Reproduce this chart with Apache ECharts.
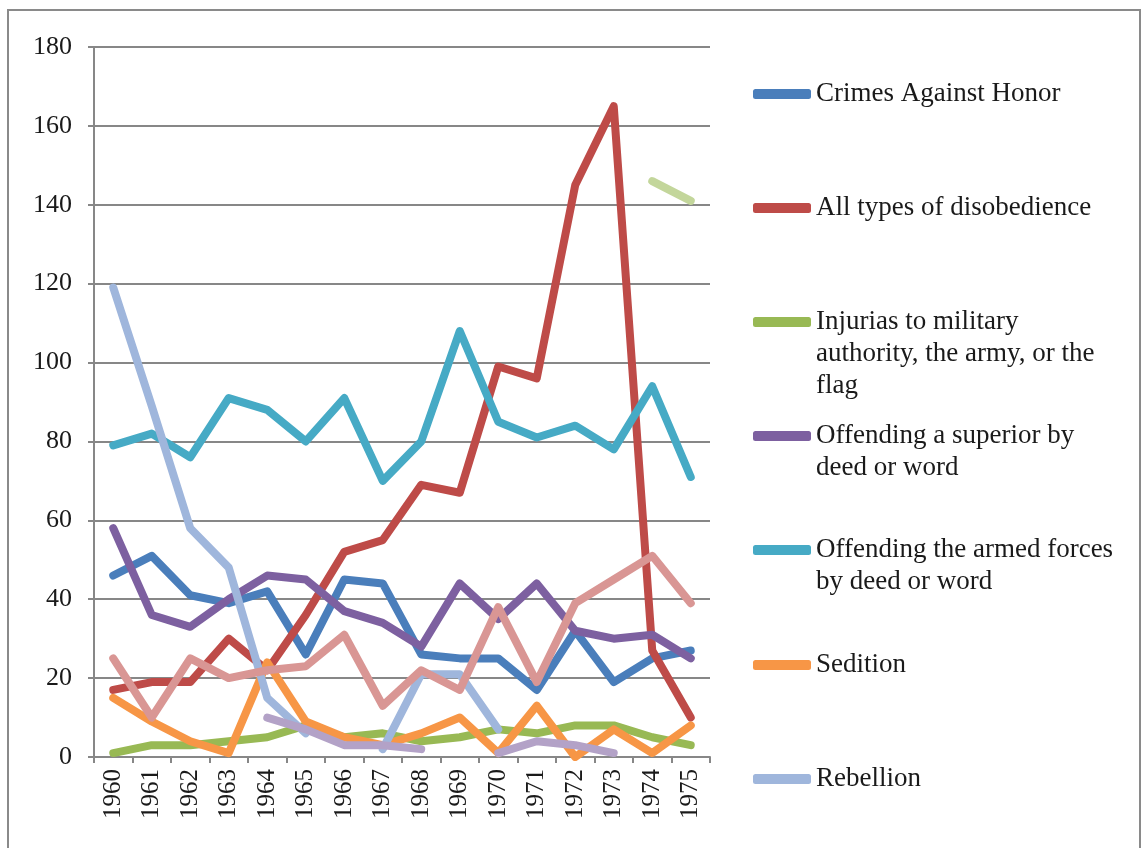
<!DOCTYPE html>
<html>
<head>
<meta charset="utf-8">
<script src="https://cdn.jsdelivr.net/npm/echarts@6/dist/echarts.min.js"></script>
<style>
html,body{margin:0;padding:0;background:#fff;}
#chart{width:1148px;height:848px;}
</style>
</head>
<body>
<div id="chart"></div>
<script>
const years = ['1960','1961','1962','1963','1964','1965','1966','1967','1968','1969','1970','1971','1972','1973','1974','1975'];
const yTicks = [0,20,40,60,80,100,120,140,160,180];

const crimesAgainstHonor = [46,51,41,39,42,26,45,44,26,25,25,17,32,19,25,27];
const disobedience       = [17,19,19,30,22,36,52,55,69,67,99,96,145,165,27,10];
const injurias           = [1,3,3,4,5,8,5,6,4,5,7,6,8,8,5,3];
const offendingSuperior  = [58,36,33,40,46,45,37,34,28,44,35,44,32,30,31,25];
const offendingForces    = [79,82,76,91,88,80,91,70,80,108,85,81,84,78,94,71];
const sedition           = [15,9,4,1,24,9,5,3,6,10,1,13,0,7,1,8];
const rebellion          = [119,89,58,48,15,6,null,2,21,21,7,null,null,null,null,null];
const series8            = [25,10,25,20,22,23,31,13,22,17,38,19,39,45,51,39];
const series9            = [null,null,null,null,null,null,null,null,null,null,null,null,null,null,146,141];
const series10           = [null,null,null,null,10,7,3,3,2,null,1,4,3,1,null,null];

const seriesNames = [
  'Crimes Against Honor',
  'All types of disobedience',
  'Injurias to military authority, the army, or the flag',
  'Offending a superior by deed or word',
  'Offending the armed forces by deed or word',
  'Sedition',
  'Rebellion',
  'Series 8',
  'Series 9',
  'Series 10'
];
const legendLines = {
  'Crimes Against Honor': ['Crimes Against Honor'],
  'All types of disobedience': ['All types of disobedience'],
  'Injurias to military authority, the army, or the flag': ['Injurias to military','authority, the army, or the','flag'],
  'Offending a superior by deed or word': ['Offending a superior by','deed or word'],
  'Offending the armed forces by deed or word': ['Offending the armed forces','by deed or word'],
  'Sedition': ['Sedition'],
  'Rebellion': ['Rebellion']
};
const seriesData = [crimesAgainstHonor, disobedience, injurias, offendingSuperior, offendingForces, sedition, rebellion, series8, series9, series10];
const colors = ['#4a7ebb','#be4b48','#98b954','#7d60a0','#46aac5','#f79646','#9fb6dc','#d99694','#c3d69b','#b3a2c7'];

const FONT = '"Liberation Serif", "DejaVu Serif", serif';
const LH = 32;
const legendCenters = [94, 208, 322, 436, 550, 665, 779];

const legends = seriesNames.slice(0,7).map((name, i) => {
  const n = legendLines[name].length;
  const total = 2*n - 1;
  return {
    orient: 'vertical',
    left: 753,
    top: legendCenters[i] - total*LH/2,
    padding: 0,
    itemWidth: 58,
    itemHeight: 10,
    icon: 'roundRect',
    selectedMode: false,
    data: [name],
    formatter: function(nm){
      const lines = legendLines[nm];
      const pre = new Array(lines.length - 1).fill('');
      return pre.concat(lines).join('\n');
    },
    textStyle: {fontFamily: FONT, fontSize: 27, color: '#1a1a1a', lineHeight: LH}
  };
});

const chart = echarts.init(document.getElementById('chart'), null, {renderer:'canvas'});
chart.setOption({
  animation: false,
  backgroundColor: '#fff',
  color: colors,
  graphic: [{
    type: 'rect', z: -1, silent: true,
    shape: {x: 8, y: 10, width: 1132, height: 900},
    style: {fill: 'none', stroke: '#8a8a8a', lineWidth: 2}
  }],
  legend: legends,
  grid: {left: 94, right: 438, top: 47, bottom: 91, containLabel: false},
  xAxis: {
    type: 'category',
    data: years,
    boundaryGap: true,
    axisLine: {lineStyle: {color: '#878787', width: 2}},
    axisTick: {show: true, alignWithLabel: false, length: 6, lineStyle: {color: '#878787', width: 2}},
    axisLabel: {rotate: 90, interval: 0, margin: 12, fontFamily: FONT, fontSize: 25, color: '#1a1a1a'},
    splitLine: {show: false}
  },
  yAxis: {
    type: 'value',
    min: 0, max: 180, interval: 20,
    axisLine: {show: true, lineStyle: {color: '#878787', width: 2}},
    axisTick: {show: true, length: 6, lineStyle: {color: '#878787', width: 2}},
    axisLabel: {margin: 22, fontFamily: FONT, fontSize: 26, color: '#1a1a1a',
      formatter: v => yTicks.includes(v) ? String(v) : ''},
    splitLine: {show: true, lineStyle: {color: '#878787', width: 2}}
  },
  series: seriesNames.map((name, i) => ({
    name: name,
    type: 'line',
    data: seriesData[i],
    showSymbol: false,
    symbol: 'none',
    connectNulls: false,
    smooth: false,
    lineStyle: {width: 8, color: colors[i], cap: 'round', join: 'round'},
    itemStyle: {color: colors[i]},
    emphasis: {disabled: true}
  }))
});
</script>
</body>
</html>
